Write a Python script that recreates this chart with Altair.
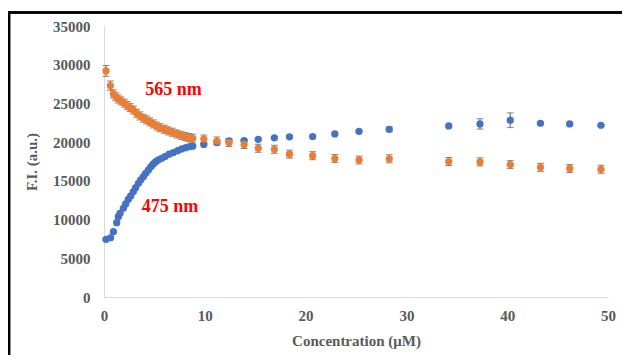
import altair as alt
import pandas as pd

# ---- data ----
blue_x = [0.2, 0.65, 0.93, 1.26, 1.42, 1.59, 1.92, 2.15, 2.41, 2.65, 2.91, 3.14, 3.41, 3.64, 3.90,
          4.14, 4.40, 4.66, 4.89, 5.13, 5.39, 5.72, 6.05, 6.45, 6.88, 7.31, 7.71, 8.10, 8.46, 8.80,
          9.9, 11.2, 12.4, 13.9, 15.3, 16.9, 18.4, 20.7, 22.9, 25.3, 28.3, 34.2, 37.3, 40.3, 43.3, 46.2, 49.3]
blue_y = [7450, 7650, 8440, 9600, 10380, 10810, 11460, 12020, 12620, 13050, 13610, 14120, 14690, 15120, 15540,
          15980, 16410, 16840, 17180, 17480, 17700, 17920, 18130, 18440, 18650, 18900, 19120, 19290, 19420, 19480,
          19700, 19950, 20160, 20200, 20370, 20560, 20690, 20730, 21060, 21400, 21660, 22090, 22350, 22830, 22440, 22350, 22180]
blue_err = [150] * 40 + [300, 150, 670, 950, 150, 150, 150]

orange_x = [0.2, 0.63, 0.93, 1.16, 1.42, 1.69, 2.02, 2.32, 2.58, 2.91, 3.24, 3.57, 3.90, 4.23, 4.56,
            4.89, 5.23, 5.56, 5.99, 6.38, 6.78, 7.21, 7.64, 8.04, 8.43, 8.80,
            9.9, 11.2, 12.4, 13.9, 15.3, 16.9, 18.4, 20.7, 22.9, 25.3, 28.3, 34.2, 37.3, 40.3, 43.3, 46.2, 49.3]
orange_y = [29200, 27300, 26230, 25880, 25580, 25320, 25030, 24720, 24460, 24160, 23730, 23390, 23090, 22870, 22610,
            22350, 22090, 21870, 21670, 21450, 21280, 21060, 20890, 20710, 20580, 20500,
            20400, 20150, 19950, 19700, 19210, 19080, 18450, 18250, 17880, 17700, 17850, 17500, 17450, 17100, 16750, 16600, 16500]
orange_err = [700, 600] + [520] * 41

series_names = ["475 nm", "565 nm"]
series_colors = ["#4472C4", "#ED7D31"]

x_ticks = [0, 10, 20, 30, 40, 50]
y_ticks = [0, 5000, 10000, 15000, 20000, 25000, 30000, 35000]

label_text = ["565 nm", "475 nm"]
label_x = [6.9, 6.55]
label_y = [26740, 11670]

rows = []
for x, y, e in zip(blue_x, blue_y, blue_err):
    rows.append({"series": series_names[0], "x": x, "y": y, "lo": y - e, "hi": y + e})
for x, y, e in zip(orange_x, orange_y, orange_err):
    rows.append({"series": series_names[1], "x": x, "y": y, "lo": y - e, "hi": y + e})
df = pd.DataFrame(rows)
labels = pd.DataFrame({"t": label_text, "x": label_x, "y": label_y})

FONT = "Liberation Serif"
GREY = "#595959"

xs = alt.Scale(domain=[0, 50], nice=False, zero=True)
ys = alt.Scale(domain=[0, 35000], nice=False, zero=True)

x_axis = alt.Axis(values=x_ticks, tickCount=20, title="Concentration (μM)", titleY=43, titleBaseline="middle",
                  labelPadding=11)
y_axis = alt.Axis(values=y_ticks, tickCount=20, format="d", title="F.I. (a.u.)", titleX=-73,
                  titleBaseline="middle", labelPadding=14)

color = alt.Color("series:N", scale=alt.Scale(domain=series_names, range=series_colors), legend=None)

base = alt.Chart(df)

stems = base.mark_rule(color=GREY, strokeWidth=1).encode(
    x=alt.X("x:Q", scale=xs, axis=x_axis), y=alt.Y("lo:Q", scale=ys, axis=y_axis), y2="hi:Q")
caps_lo = base.mark_tick(color=GREY, orient="horizontal", size=7, thickness=1).encode(
    x="x:Q", y="lo:Q")
caps_hi = base.mark_tick(color=GREY, orient="horizontal", size=7, thickness=1).encode(
    x="x:Q", y="hi:Q")
points = base.mark_circle(size=52, opacity=1).encode(
    x="x:Q", y="y:Q", color=color)

texts = alt.Chart(labels).mark_text(font=FONT, fontWeight="bold", fontSize=18, color="#FF0000").encode(
    x="x:Q", y="y:Q", text="t:N")

frame_top = alt.Chart(labels).mark_rule(color="black", strokeWidth=2.5, clip=False).encode(
    x=alt.value(-96), x2=alt.value(518), y=alt.value(-13.5))
frame_left = alt.Chart(labels).mark_rule(color="black", strokeWidth=2.5, clip=False).encode(
    x=alt.value(-95), y=alt.value(-14.5), y2=alt.value(329))

axis_style = dict(grid=False, ticks=False, domainColor="#d9d9d9",
                  labelFont=FONT, labelFontWeight="bold", labelFontSize=15, labelColor=GREY,
                  labelOverlap=False, labelFlush=False, labelBound=False,
                  titleFont=FONT, titleFontWeight="bold", titleFontSize=15, titleColor=GREY)

chart = alt.layer(stems, caps_lo, caps_hi, points, texts, frame_top, frame_left).properties(
    width=504, height=271,
    autosize=alt.AutoSizeParams(type="none"),
    padding={"left": 96, "top": 18, "right": 14, "bottom": 58},
    background="white",
).configure_view(stroke=None).configure_axis(**axis_style)

chart.save("out.html", embed_options={"renderer": "svg", "actions": False})
